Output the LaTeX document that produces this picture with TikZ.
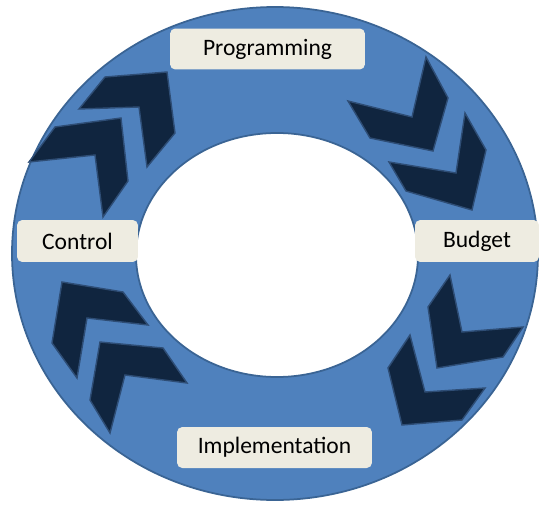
\documentclass[tikz,border=0pt]{standalone}
\usepackage{fontspec}
\setmainfont{Carlito}
\definecolor{ringblue}{HTML}{4F81BD}
\definecolor{ringedge}{HTML}{3A6494}
\definecolor{chevnavy}{HTML}{10253F}
\definecolor{chevedge}{HTML}{2E4D75}
\definecolor{boxtan}{HTML}{EEECE1}
\begin{document}
\begin{tikzpicture}[x=0.02cm, y=-0.02cm,
	stagebox/.style={fill=boxtan, rounded corners=3pt, minimum height=0.82cm, inner sep=0pt, font=\fontsize{13.4}{16}\selectfont},
	chevron/.style={fill=chevnavy, draw=chevedge, line width=0.8pt}]
	\newcommand{\CHEVRON}[6]{\filldraw[chevron] #1 -- #2 -- #3 -- #4 -- #5 -- #6 -- cycle;}
	\useasboundingbox (0,0) rectangle (541,507);
	% ring
	\filldraw[fill=ringblue, draw=ringedge, line width=1pt, even odd rule] (275,253.5) ellipse [x radius=263, y radius=246.5] (277,255) ellipse [x radius=141, y radius=122];
	% chevrons, clockwise from upper left
	\CHEVRON{(79,109)}{(105,77)}{(167,72)}{(175,133)}{(147,167)}{(139,107)}
	\CHEVRON{(29,162)}{(55,127)}{(121,118)}{(128,181)}{(103,217)}{(95,155)}
	\CHEVRON{(348,101)}{(370,138)}{(433,151)}{(448,98)}{(426,57)}{(412,117)}
	\CHEVRON{(389,162)}{(406,191)}{(472,210)}{(486,150)}{(465,113)}{(456,173)}
	\CHEVRON{(450,275)}{(428,307)}{(437,368)}{(503,357)}{(523,327)}{(462,332)}
	\CHEVRON{(410,335)}{(388,368)}{(402,425)}{(462,420)}{(485,388)}{(425,392)}
	\CHEVRON{(148,325)}{(123,292)}{(62,282)}{(52,343)}{(77,378)}{(87,318)}
	\CHEVRON{(187,383)}{(163,348)}{(100,342)}{(90,400)}{(110,433)}{(125,375)}
	% stages
	\node[stagebox, minimum width=3.9cm] (prog) at (267.5,49) {Programming};
	\node[stagebox, minimum width=2.48cm, minimum height=0.84cm] (budget) at (477,241) {Budget};
	\node[stagebox, minimum width=3.9cm] (impl) at (274.5,447.5) {Implementation};
	\node[stagebox, minimum width=2.42cm, minimum height=0.84cm] (control) at (77.5,241) {Control};
\end{tikzpicture}
\end{document}
